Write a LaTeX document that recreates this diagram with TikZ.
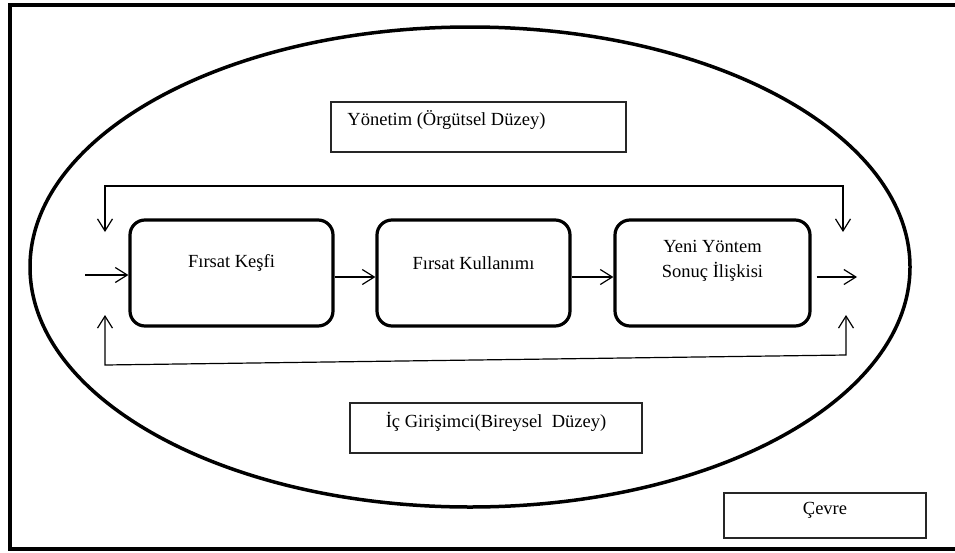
\documentclass[tikz,border=0pt]{standalone}
\usepackage{fontspec}
\setmainfont{Liberation Serif}
\usetikzlibrary{arrows.meta}
\tikzset{
  stage/.style={draw=black, rounded corners=15pt, line width=3.2pt, fill=white,
    minimum height=106pt, inner sep=0pt},
  levelbox/.style={draw=black!85, line width=1.5pt, fill=white, minimum height=50pt, inner sep=0pt},
  lbl/.style={font=\fontsize{18.5}{25}\selectfont, align=center, inner sep=0pt, text=black},
  arr/.style={-{Straight Barb[length=12pt,width=15pt]}, line width=1.2pt},
  fback/.style={{Straight Barb[length=12pt,width=15pt]}-{Straight Barb[length=12pt,width=15pt]}, line width=1.2pt},
}

\begin{document}
\begin{tikzpicture}[x=1pt,y=-1pt]
\useasboundingbox (0,0) rectangle (955,552);
% environment frame (right side runs off the page) and organisation
\draw[line width=4pt] (9.5,5) rectangle (959,549);
\draw[line width=3.5pt] (470,267) ellipse [x radius=440pt, y radius=240pt];

% levels
\node[levelbox, minimum width=295pt,
  label={[lbl, anchor=west, xshift=17pt, yshift=7pt]west:Yönetim (Örgütsel Düzey)}] (yonetim) at (478.5,127) {};
\node[levelbox, minimum width=292pt,
  label={[lbl, yshift=6pt]center:İç Girişimci(Bireysel\ \ Düzey)}] (icgirisimci) at (496,428) {};
\node[levelbox, minimum width=202pt, minimum height=45pt,
  label={[lbl, yshift=5pt]center:Çevre}] (cevre) at (825,515.5) {};

% process stages
\node[stage, minimum width=203pt, label={[lbl, yshift=10pt]center:Fırsat Keşfi}] (kesif) at (231.5,273) {};
\node[stage, minimum width=193pt, label={[lbl, yshift=10pt]center:Fırsat Kullanımı}] (kullanim) at (473.5,273) {};
\node[stage, minimum width=195pt, label={[lbl, yshift=12pt]center:Yeni Yöntem\\Sonuç İlişkisi}] (yontem) at (712.5,273) {};

% free ends
\coordinate (giris) at (85,275);
\coordinate (cikis) at (857,277);
\coordinate (ustSol) at (105,232);
\coordinate (ustSolK) at (105,186);
\coordinate (ustSagK) at (843,186);
\coordinate (ustSag) at (843,232);
\coordinate (altSol) at (105,315);
\coordinate (altSolK) at (105,365);
\coordinate (altSagK) at (846,355);
\coordinate (altSag) at (846,315);

% flow
\draw[arr] (giris) -- (giris -| kesif.west);
\draw[arr] ([yshift=-4pt]kesif.east) -- ([yshift=-4pt]kullanim.west);
\draw[arr] ([yshift=-4pt]kullanim.east) -- ([yshift=-4pt]yontem.west);
\draw[arr] ([xshift=5pt,yshift=-4pt]yontem.east) -- (cikis);

% feedback loops
\draw[fback] (ustSol) -- (ustSolK) -- (ustSagK) -- (ustSag);
\draw[fback] (altSol) -- (altSolK) -- (altSagK) -- (altSag);
\end{tikzpicture}
\end{document}
